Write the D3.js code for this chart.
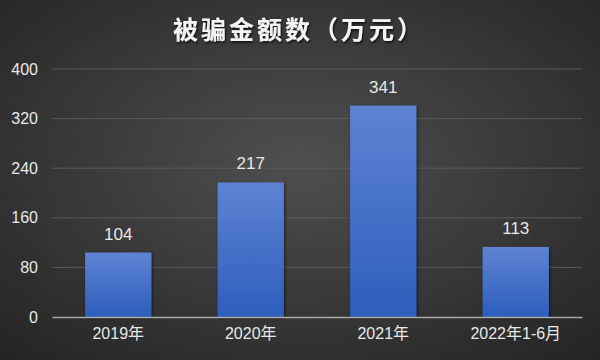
<!DOCTYPE html>
<html><head><meta charset="utf-8">
<script src="https://cdn.jsdelivr.net/npm/d3@7"></script>
<style>html,body{margin:0;padding:0;background:#333;}svg{display:block;}</style>
</head><body>
<svg id="c" width="600" height="360"></svg>
<script>
const categories = ["2019年", "2020年", "2021年", "2022年1-6月"];
const values = [104, 217, 341, 113];
const yTicks = [0, 80, 160, 240, 320, 400];
const title = "被骗金额数（万元）";

const W = 600, H = 360;
const m = {left: 52, right: 18, top: 69, bottom: 43};
const svg = d3.select("#c");
const defs = svg.append("defs");
const bg = defs.append("radialGradient").attr("id","bg").attr("cx","50%").attr("cy","45%").attr("r","75%");
bg.append("stop").attr("offset","0%").attr("stop-color","#4f4f4f");
bg.append("stop").attr("offset","100%").attr("stop-color","#232323");
const bar = defs.append("linearGradient").attr("id","bar").attr("x1",0).attr("y1",0).attr("x2",0).attr("y2",1);
bar.append("stop").attr("offset","0%").attr("stop-color","#5e83d4");
bar.append("stop").attr("offset","100%").attr("stop-color","#2d5ebc");
const sh = defs.append("filter").attr("id","sh").attr("x","-20%").attr("y","-20%").attr("width","140%").attr("height","140%");
sh.append("feDropShadow").attr("dx",1).attr("dy",1).attr("stdDeviation",1.5).attr("flood-color","#000").attr("flood-opacity",0.6);

svg.append("rect").attr("width",W).attr("height",H).attr("fill","url(#bg)");

const x = d3.scaleBand().domain(categories).range([m.left, W - m.right]).paddingInner(0.5).paddingOuter(0.25);
const y = d3.scaleLinear().domain([0, 400]).range([H - m.bottom, m.top]);

// gridlines
svg.append("g").selectAll("line").data(yTicks.filter(d => d > 0)).join("line")
  .attr("x1", m.left).attr("x2", W - m.right)
  .attr("y1", d => y(d)).attr("y2", d => y(d))
  .attr("stroke", "#5a5a5a").attr("stroke-width", 1);

// y axis labels
const yAxis = d3.axisLeft(y).tickValues(yTicks).tickSize(0).tickPadding(14);
const gy = svg.append("g").attr("transform", `translate(${m.left},0)`).call(yAxis);
gy.select(".domain").remove();
gy.selectAll("text").attr("fill", "#e8e8e8").style("font-family", "Arial, 'Liberation Sans', sans-serif").style("font-size", "16px");

// bars
svg.append("g").selectAll("rect").data(values).join("rect")
  .attr("x", (d, i) => x(categories[i]))
  .attr("width", x.bandwidth())
  .attr("y", d => y(d))
  .attr("height", d => y(0) - y(d))
  .attr("fill", "url(#bar)")
  .attr("filter", "url(#sh)");

// x axis
const xAxis = d3.axisBottom(x).tickSize(0).tickPadding(11);
const gx = svg.append("g").attr("transform", `translate(0,${y(0)})`).call(xAxis);
gx.select(".domain").attr("stroke", "#a8a8a8").attr("stroke-width", 1.5);
gx.selectAll("text").attr("fill", "#e8e8e8").style("font-family", "Arial, 'Noto Sans CJK SC', sans-serif").style("font-size", "16px");

// value labels
svg.append("g").selectAll("text").data(values).join("text")
  .attr("x", (d, i) => x(categories[i]) + x.bandwidth() / 2)
  .attr("y", d => y(d) - 13)
  .attr("text-anchor", "middle")
  .attr("fill", "#e8e8e8")
  .style("font-family", "Arial, 'Liberation Sans', sans-serif")
  .style("font-size", "17px")
  .text(d => d);

// title
const tsh = defs.append("filter").attr("id","tsh");
tsh.append("feDropShadow").attr("dx",1).attr("dy",1.5).attr("stdDeviation",1).attr("flood-color","#000").attr("flood-opacity",0.8);
svg.append("text").attr("x", 299).attr("y", 39).attr("text-anchor", "middle")
  .attr("fill", "#f4f4f4").attr("filter","url(#tsh)")
  .style("font-family", "'Noto Sans CJK SC', sans-serif").style("font-size", "25px").style("font-weight", "bold")
  .style("letter-spacing","3px")
  .text(title);
</script>
</body></html>
